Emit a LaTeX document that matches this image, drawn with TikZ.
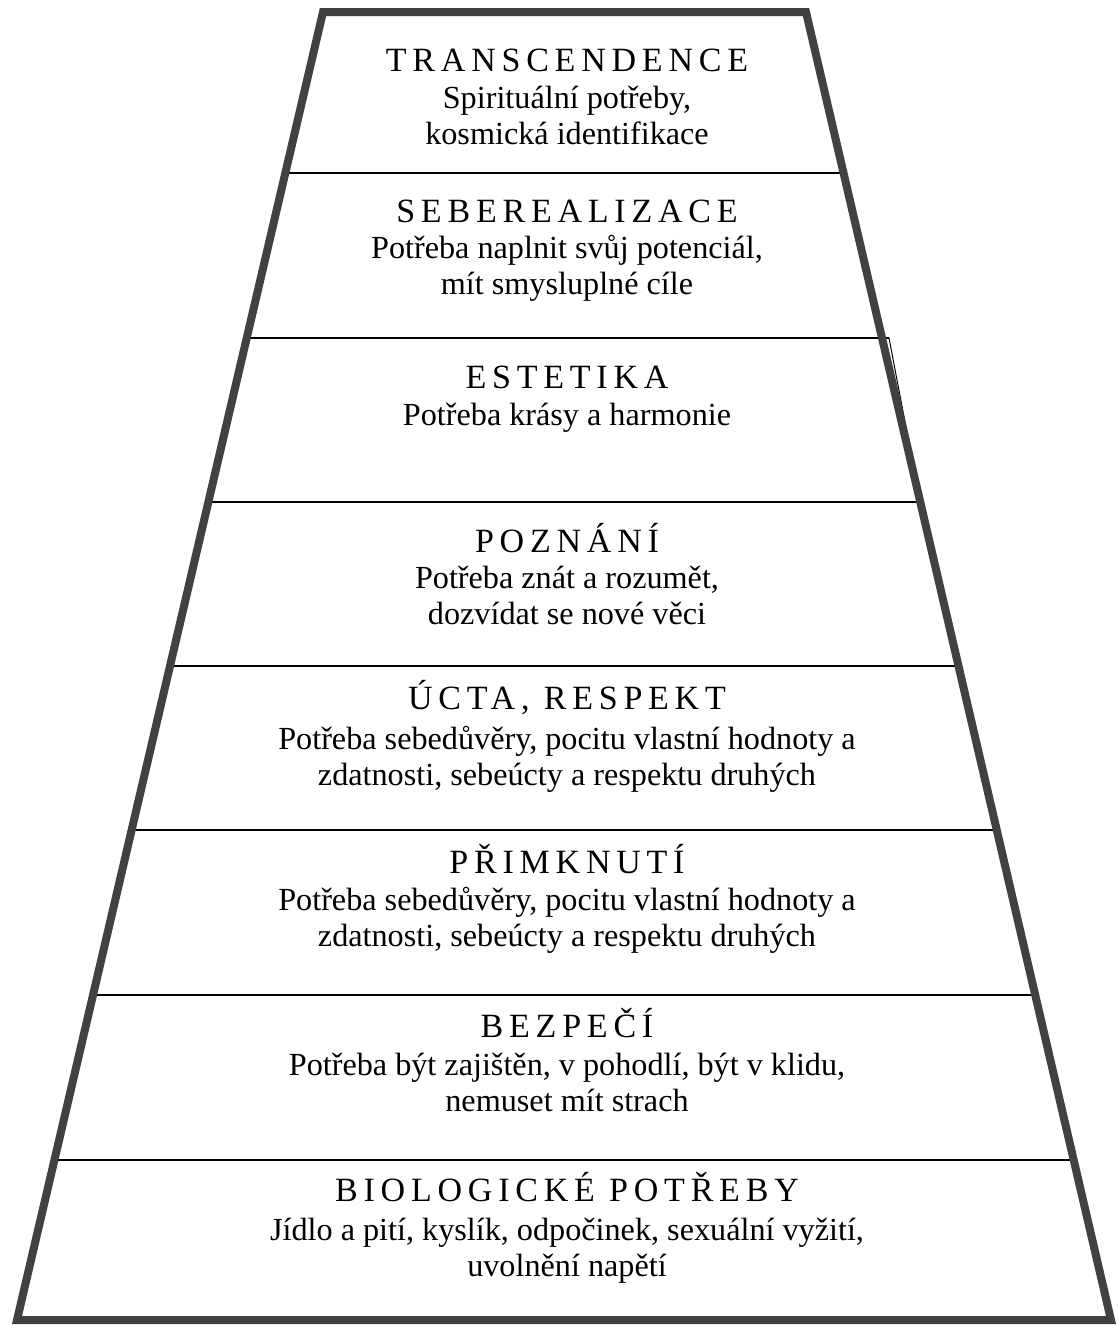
\documentclass[tikz,border=0pt]{standalone}
\usepackage{fontspec}
\setmainfont{Liberation Serif}
\newfontfamily\titlefont[LetterSpace=17]{Liberation Serif}
\usepackage{xcolor}
\usetikzlibrary{calc, positioning}

\definecolor{pyramidgray}{HTML}{414141}

\tikzset{
    outline/.style={draw=pyramidgray, line width=8pt, line join=miter},
    divider/.style={draw=black, line width=1.8pt},
    leveltitle/.style={inner sep=0pt, anchor=base, font=\titlefont\fontsize{34}{38}\selectfont},
    levelbody/.style={inner sep=0pt, align=center, font=\fontsize{32.2}{35.5}\selectfont},
}

\begin{document}
\begin{tikzpicture}[x=1pt, y=-1pt]
    \useasboundingbox (0,0) rectangle (1117,1325);
    % corners of the pyramid
    \coordinate (tl) at (323,12);
    \coordinate (tr) at (806,12);
    \coordinate (br) at (1111,1320);
    \coordinate (bl) at (17,1320);

    % dividers between the levels
    \foreach \y in {173,502,666,830,995,1160}
        \draw[divider] ($(tl)!{(\y-12)/1308}!(bl)$) -- ($(tr)!{(\y-12)/1308}!(br)$);
    \draw[divider] ($(tl)!{(338-12)/1308}!(bl)$) -- (889,338);
    \draw[black, line width=1pt] (889,338) -- ($(tr)!{(502-12)/1308}!(br)$);

    % outline
    \draw[outline] (tl) -- (tr) -- (br) -- (bl) -- cycle;

    % levels, from the top (base of a body node = its last line)
    \node[leveltitle] (transc) at (567,71) {TRANSCENDENCE};
    \node[levelbody, below=73pt of transc.base, anchor=base] (transcbody) {Spirituální potřeby,\\kosmická identifikace};

    \node[leveltitle] (seberea) at (567,222) {SEBEREALIZACE};
    \node[levelbody, below=72pt of seberea.base, anchor=base] (sebereabody) {Potřeba naplnit svůj potenciál,\\mít smysluplné cíle};

    \node[leveltitle] (estet) at (567,388) {ESTETIKA};
    \node[levelbody, below=37pt of estet.base, anchor=base] (estetbody) {Potřeba krásy a harmonie};

    \node[leveltitle] (pozn) at (567,552) {POZNÁNÍ};
    \node[levelbody, below=72pt of pozn.base, anchor=base] (poznbody) {Potřeba znát a rozumět,\\dozvídat se nové věci};

    \node[leveltitle] (ucta) at (567,709) {ÚCTA, RESPEKT};
    \node[levelbody, below=76pt of ucta.base, anchor=base] (uctabody) {Potřeba sebedůvěry, pocitu vlastní hodnoty a\\zdatnosti, sebeúcty a respektu druhých};

    \node[leveltitle] (primk) at (567,873) {PŘIMKNUTÍ};
    \node[levelbody, below=73pt of primk.base, anchor=base] (primkbody) {Potřeba sebedůvěry, pocitu vlastní hodnoty a\\zdatnosti, sebeúcty a respektu druhých};

    \node[leveltitle] (bezp) at (567,1037) {BEZPEČÍ};
    \node[levelbody, below=74pt of bezp.base, anchor=base] (bezpbody) {Potřeba být zajištěn, v pohodlí, být v klidu,\\nemuset mít strach};

    \node[leveltitle] (biol) at (567,1201) {BIOLOGICKÉ POTŘEBY};
    \node[levelbody, below=75pt of biol.base, anchor=base] (biolbody) {Jídlo a pití, kyslík, odpočinek, sexuální vyžití,\\uvolnění napětí};
\end{tikzpicture}
\end{document}
